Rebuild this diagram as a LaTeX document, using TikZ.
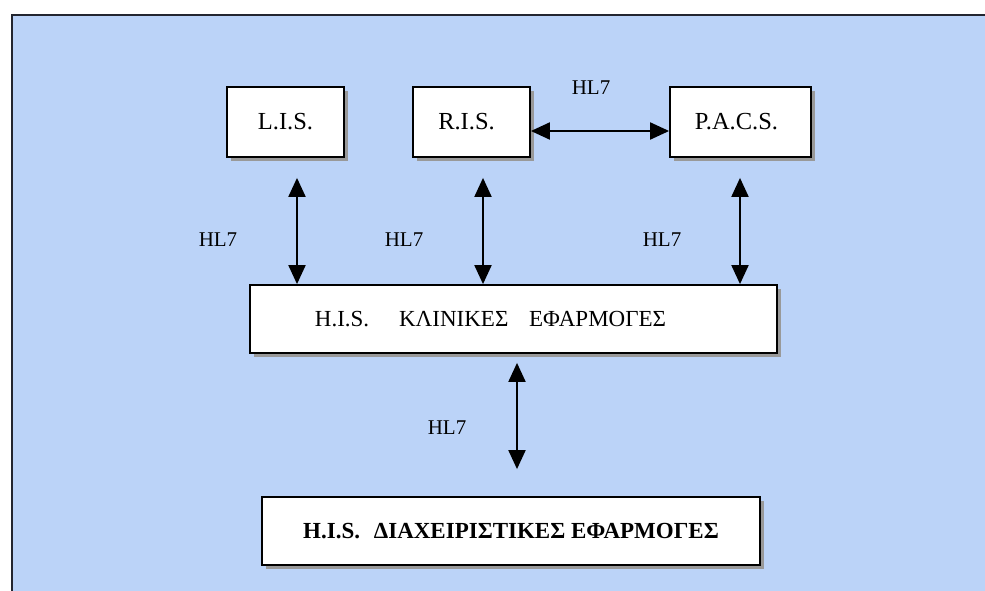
\documentclass[tikz,border=0pt]{standalone}
\usepackage{fontspec}
\setmainfont{Liberation Serif}
\usetikzlibrary{arrows.meta,shadows}
\definecolor{panelblue}{RGB}{187,211,248}
\definecolor{framegray}{RGB}{35,38,48}
\begin{document}
\begin{tikzpicture}[
    x=1pt,y=-1pt,
    box/.style={draw,line width=1.8pt,fill=white,inner sep=0pt,font=\fontsize{23}{27}\selectfont,
        drop shadow={shadow xshift=4pt,shadow yshift=-4pt,opacity=1,fill=black!40}},
    sysbox/.style={box,minimum height=70pt,font=\fontsize{24.5}{28}\selectfont},
    tag/.style={font=\fontsize{21}{25}\selectfont,inner sep=0pt},
    arr/.style={{Triangle[length=19pt,width=17pt]}-{Triangle[length=19pt,width=17pt]},line width=2pt}
]
\useasboundingbox (0,0) rectangle (985,591);
\fill[white] (0,0) rectangle (985,591);
\clip (0,0) rectangle (985,591);
\draw[line width=2.8pt,draw=framegray,fill=panelblue] (12,15) rectangle (1000,610);
% systems
\node[sysbox,minimum width=117pt] (lis) at (285.5,122) {L.I.S.};
\node[sysbox,minimum width=117pt] (ris) at (471.5,122) {R.I.S.\hspace*{10pt}};
\node[sysbox,minimum width=141pt] (pacs) at (740.5,122) {P.A.C.S.\hspace*{8pt}};
\node[box,minimum width=527pt,minimum height=68pt] (his) at (513.5,319) {H.I.S.\hspace{1.3em}ΚΛΙΝΙΚΕΣ\hspace{0.9em}ΕΦΑΡΜΟΓΕΣ\hspace*{46pt}};
\node[box,minimum width=498pt,minimum height=68pt,font=\fontsize{23}{27}\selectfont\bfseries] (adm) at (511,531) {H.I.S.\hspace{0.6em}ΔΙΑΧΕΙΡΙΣΤΙΚΕΣ ΕΦΑΡΜΟΓΕΣ};
% links
\draw[arr] ([yshift=-9pt]ris.east) -- ([yshift=-9pt]pacs.west);
\draw[arr] ([xshift=11.5pt,yshift=-20pt]lis.south) -- ([xshift=11.5pt]lis.south |- his.north);
\draw[arr] ([xshift=11.5pt,yshift=-20pt]ris.south) -- ([xshift=11.5pt]ris.south |- his.north);
\draw[arr] ([xshift=-0.5pt,yshift=-20pt]pacs.south) -- ([xshift=-0.5pt]pacs.south |- his.north);
\draw[arr] ([xshift=3.5pt,yshift=-9pt]his.south) -- ([xshift=3.5pt,yshift=27pt]his.south |- adm.north);
% labels
\node[tag] (hltop) at (591,88) {HL7};
\node[tag] (hllis) at (218,240) {HL7};
\node[tag] (hlris) at (404,240) {HL7};
\node[tag] (hlpacs) at (662,240) {HL7};
\node[tag] (hladm) at (447,428) {HL7};
\end{tikzpicture}
\end{document}
